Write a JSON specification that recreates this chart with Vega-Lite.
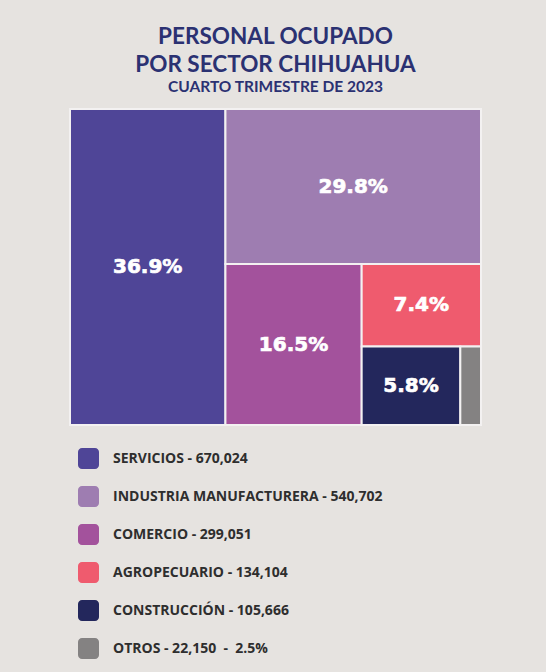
{
  "$schema": "https://vega.github.io/schema/vega-lite/v6.json",
  "width": 411,
  "height": 316,
  "autosize": {"type": "none"},
  "padding": {"left": 70, "top": 109, "right": 65, "bottom": 247},
  "background": "#e6e3e0",
  "title": {
    "text": ["PERSONAL OCUPADO", "POR SECTOR CHIHUAHUA"],
    "subtitle": "CUARTO TRIMESTRE DE 2023",
    "anchor": "middle",
    "font": "Lato",
    "fontSize": 22.5,
    "fontWeight": "bold",
    "color": "#2b3172",
    "lineHeight": 28,
    "subtitleFont": "Lato",
    "subtitleFontSize": 15.5,
    "subtitleFontWeight": "bold",
    "subtitleColor": "#2b3172",
    "subtitlePadding": 3,
    "offset": 13
  },
  "data": {
    "values": [
      {"sector": "Servicios", "valor": 670024, "pct": 36.9},
      {"sector": "Industria manufacturera", "valor": 540702, "pct": 29.8},
      {"sector": "Comercio", "valor": 299051, "pct": 16.5},
      {"sector": "Agropecuario", "valor": 134104, "pct": 7.4},
      {"sector": "Construcción", "valor": 105666, "pct": 5.8},
      {"sector": "Otros", "valor": 22150, "pct": 2.5}
    ]
  },
  "transform": [
    {"joinaggregate": [{"op": "sum", "field": "valor", "as": "total"}]},
    {"stack": "valor", "groupby": [], "sort": [{"field": "valor", "order": "ascending"}], "as": ["c0", "rem"]},
    {"calculate": "1", "as": "one"},
    {"stack": "one", "groupby": [], "sort": [{"field": "valor", "order": "descending"}], "as": ["k", "k1"]},
    {"calculate": "datum.rem / datum.total", "as": "R"},
    {"calculate": "datum.k == 1 ? datum.R : 0", "as": "R1"},
    {"calculate": "datum.k == 2 ? datum.R : 0", "as": "R2"},
    {"calculate": "datum.k == 3 ? datum.R : 0", "as": "R3"},
    {"calculate": "datum.k == 4 ? datum.R : 0", "as": "R4"},
    {"joinaggregate": [
      {"op": "max", "field": "R1", "as": "M1"},
      {"op": "max", "field": "R2", "as": "M2"},
      {"op": "max", "field": "R3", "as": "M3"},
      {"op": "max", "field": "R4", "as": "M4"}
    ]},
    {"calculate": "datum.k <= 1 ? 1 : (datum.k <= 3 ? datum.M2 / datum.M1 : datum.M4 * datum.M2 / (datum.M3 * datum.M1))", "as": "H"},
    {"calculate": "datum.R / datum.H", "as": "W"},
    {"calculate": "datum.valor / datum.rem", "as": "f"},
    {"calculate": "1 - datum.W", "as": "x0"},
    {"calculate": "1 - datum.H", "as": "y0"},
    {"calculate": "datum.k % 2 == 0 ? datum.x0 + datum.f * datum.W : 1", "as": "x1"},
    {"calculate": "datum.k % 2 == 0 ? 1 : datum.y0 + datum.f * datum.H", "as": "y1"},
    {"calculate": "(datum.x0 + datum.x1) / 2", "as": "cx"},
    {"calculate": "(datum.y0 + datum.y1) / 2", "as": "cy"},
    {"calculate": "format(datum.pct, '.1f') + '%'", "as": "etiqueta"},
    {"calculate": "upper(datum.sector) + ' - ' + format(datum.valor, ',') + (datum.sector == 'Otros' ? '\u00a0 -\u00a0 ' + format(datum.pct, '.1f') + '%' : '')", "as": "leyenda"}
  ],
  "layer": [
    {
      "mark": {"type": "rect", "stroke": "#f3f1f1", "strokeWidth": 2},
      "encoding": {
        "x": {"field": "x0", "type": "quantitative", "scale": {"domain": [0, 1], "nice": false}, "axis": null},
        "x2": {"field": "x1"},
        "y": {"field": "y0", "type": "quantitative", "scale": {"domain": [0, 1], "nice": false, "reverse": true}, "axis": null},
        "y2": {"field": "y1"},
        "color": {
          "field": "leyenda",
          "type": "nominal",
          "scale": {
            "domain": ["SERVICIOS - 670,024", "INDUSTRIA MANUFACTURERA - 540,702", "COMERCIO - 299,051", "AGROPECUARIO - 134,104", "CONSTRUCCIÓN - 105,666", "OTROS - 22,150\u00a0 -\u00a0 2.5%"],
            "range": ["#4f4597", "#9e7db1", "#a3529c", "#ef5b6e", "#23275c", "#848282"]
          },
          "legend": {
            "title": null,
            "orient": "none",
            "legendX": 8,
            "legendY": 339,
            "direction": "vertical",
            "padding": 0,
            "symbolType": "M-0.62,-1H0.62C0.83,-1,1,-0.83,1,-0.62V0.62C1,0.83,0.83,1,0.62,1H-0.62C-0.83,1,-1,0.83,-1,0.62V-0.62C-1,-0.83,-0.83,-1,-0.62,-1Z",
            "symbolSize": 441,
            "symbolStrokeWidth": 0,
            "symbolOpacity": 1,
            "labelFont": "Open Sans",
            "labelFontSize": 14,
            "labelFontWeight": "bold",
            "labelColor": "#2e2e2e",
            "labelOffset": 14,
            "labelLimit": 400,
            "rowPadding": 17
          }
        }
      }
    },
    {
      "transform": [{"filter": "datum.sector != 'Otros'"}],
      "mark": {"type": "text", "font": "DejaVu Sans", "fontWeight": "bold", "fontSize": 20, "color": "white", "stroke": "white", "strokeWidth": 0.7},
      "encoding": {
        "x": {"field": "cx", "type": "quantitative"},
        "y": {"field": "cy", "type": "quantitative"},
        "text": {"field": "etiqueta"}
      }
    }
  ],
  "config": {"view": {"stroke": null}}
}
